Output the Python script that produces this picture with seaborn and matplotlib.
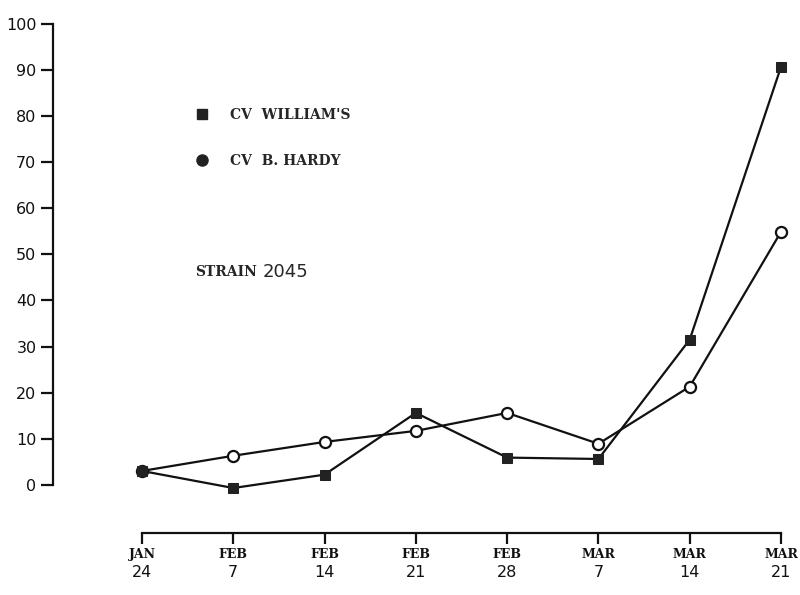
# Curva de infecção por cultivar - strain 2045
import numpy as np
import pandas as pd
import matplotlib
matplotlib.use('Agg')
import matplotlib.pyplot as plt
from matplotlib.lines import Line2D
import seaborn as sns

# ── DADOS ──────────────────────────────────────────
meses = ['JAN', 'FEB', 'FEB', 'FEB', 'FEB', 'MAR', 'MAR', 'MAR']
dias = ['24', '7', '14', '21', '28', '7', '14', '21']
williams = [3.0, -0.7, 2.2, 15.6, 5.9, 5.6, 31.5, 90.7]
hardy = [3.0, 6.3, 9.3, 11.7, 15.6, 8.9, 21.3, 54.9]
y_ticks = [0, 10, 20, 30, 40, 50, 60, 70, 80, 90, 100]
legenda = ["CV  WILLIAM'S", "CV  B. HARDY"]

df = pd.DataFrame({'semana': np.arange(len(dias)),
                   'williams': williams,
                   'hardy': hardy})

# ── FIGURA ─────────────────────────────────────────
sns.set_style('ticks')
plt.rcParams['font.family'] = ['DejaVu Sans']

fig = plt.figure(figsize=(8, 5.95), dpi=100)
ax = fig.add_axes([142/800, 101/595, (781-142)/800, (571-101)/595])

sns.lineplot(data=df, x='semana', y='hardy', ax=ax, color='#111111',
             lw=1.6, marker='o', ms=8, mfc='white', mec='#111111', mew=1.6,
             clip_on=False, zorder=3)
sns.lineplot(data=df, x='semana', y='williams', ax=ax, color='#111111',
             lw=1.6, marker='s', ms=7.5, mfc='#222222', mec='#222222',
             clip_on=False, zorder=4)

ax.set_xlim(0, len(dias) - 1)
ax.set_ylim(-2, 100)
ax.set_xlabel('')
ax.set_ylabel('')

# eixos separados (estilo gráfico datilografado)
sns.despine(ax=ax, offset={'left': 64, 'bottom': 28})
ax.spines['left'].set_bounds(0, 100)
ax.spines['bottom'].set_bounds(0, len(dias) - 1)
for s in ['left', 'bottom']:
    ax.spines[s].set_linewidth(1.6)
    ax.spines[s].set_color('#111111')

ax.set_yticks(y_ticks)
ax.set_yticklabels([str(v) for v in y_ticks], fontsize=11.5)
ax.tick_params(axis='y', length=9, width=1.6, pad=3, colors='#111111')

# meses como rótulos principais, dias como rótulos secundários
ax.xaxis.remove_overlapping_locs = False
ax.set_xticks(df['semana'])
ax.set_xticklabels(meses, family='DejaVu Serif', fontweight='bold', fontsize=9)
ax.set_xticks(df['semana'], minor=True)
ax.set_xticklabels(dias, minor=True, fontsize=11.5)
ax.tick_params(axis='x', which='major', length=8, width=1.6, pad=3, colors='#111111')
ax.tick_params(axis='x', which='minor', length=0, pad=23, colors='#111111')

# legenda
handles = [Line2D([], [], ls='none', marker='s', ms=7.5, color='#222222'),
           Line2D([], [], ls='none', marker='o', ms=8, color='#222222')]
leg = ax.legend(handles, legenda, loc='upper left',
                bbox_to_anchor=(188/800, 1 - 101/595),
                bbox_transform=fig.transFigure, frameon=False,
                handlelength=1, handletextpad=1.5, labelspacing=2.3,
                borderpad=0, prop={'family': 'DejaVu Serif', 'weight': 'bold',
                                   'size': 10})

fig.text(195/800, 1 - 272/595, 'STRAIN', family='DejaVu Serif',
         fontweight='bold', fontsize=10, va='center', ha='left')
fig.text(263/800, 1 - 272/595, '2045', fontsize=13,
         va='center', ha='left')

fig.savefig('out.png', dpi=100)
